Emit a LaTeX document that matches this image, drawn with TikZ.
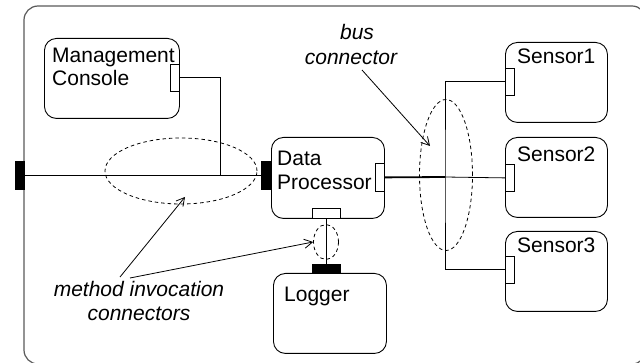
\documentclass[tikz,border=0pt]{standalone}
\usepackage{fontspec}
\setmainfont{Liberation Sans}
\usetikzlibrary{arrows.meta,shapes.geometric}
\begin{document}
\begin{tikzpicture}[x=1pt,y=-1pt,
  comp/.style={draw, rounded corners=12pt, line width=0.9pt, anchor=north west, inner sep=0pt},
  port/.style={draw, fill=white, line width=0.8pt, anchor=north west, inner sep=0pt},
  bport/.style={draw, fill=black, line width=0.8pt, anchor=north west, inner sep=0pt},
  lbl/.style={anchor=base west, inner sep=0pt, font=\fontsize{21}{23}\selectfont},
  note/.style={anchor=base, inner sep=0pt, font=\fontsize{21}{23}\selectfont\itshape},
  wire/.style={line width=0.8pt},
  ell/.style={draw, dashed, ellipse, inner sep=0pt, line width=0.8pt, dash pattern=on 3.5pt off 3pt},
  pointer/.style={line width=0.8pt, -{Straight Barb[length=8pt,width=9pt]}}
]
\useasboundingbox (0,0) rectangle (640,363);
% frame
\draw[line width=1.2pt, draw=black!65, rounded corners=14pt] (24,6) rectangle (646,364);
\node[bport, minimum width=9pt, minimum height=28pt] (lp) at (15,161) {};

% Management Console
\node[comp, minimum width=135pt, minimum height=80pt] (mc) at (44,38) {};
\node[port, minimum width=9pt, minimum height=27pt] (mcp) at (170,64) {};
\node[lbl] (mct1) at (52,63) {Management};
\node[lbl] (mct2) at (52,86) {Console};

% Data Processor
\node[comp, minimum width=113pt, minimum height=81pt] (dp) at (271,137) {};
\node[bport, minimum width=10pt, minimum height=28pt] (dpl) at (261,161) {};
\node[port, minimum width=9pt, minimum height=28pt] (dpr) at (375,163) {};
\node[port, minimum width=28pt, minimum height=10pt] (dpb) at (312,208) {};
\node[lbl] (dpt1) at (277,166) {Data};
\node[lbl] (dpt2) at (277,190) {Processor};

% Logger
\node[comp, minimum width=113pt, minimum height=80pt] (lg) at (273,273) {};
\node[bport, minimum width=28pt, minimum height=9pt] (lgp) at (312,264) {};
\node[lbl] (lgt) at (284,302) {Logger};

% Sensors
\node[comp, minimum width=102pt, minimum height=80pt] (s1) at (505,42) {};
\node[port, minimum width=9pt, minimum height=27pt] (s1p) at (505,68) {};
\node[lbl] (s1t) at (517,64) {Sensor1};
\node[comp, minimum width=102pt, minimum height=80pt] (s2) at (505,137) {};
\node[port, minimum width=9pt, minimum height=27pt] (s2p) at (505,164) {};
\node[lbl] (s2t) at (517,162) {Sensor2};
\node[comp, minimum width=102pt, minimum height=80pt] (s3) at (505,231) {};
\node[port, minimum width=9pt, minimum height=27pt] (s3p) at (505,256) {};
\node[lbl] (s3t) at (517,253) {Sensor3};

% method invocation connectors
\coordinate (j1) at (220,175);
\draw[wire] (lp.east) -- (dpl.west);
\draw[wire] (mcp.east) -| (j1);
\draw[wire] (dpb.south) -- (lgp.north);

% bus connector
\coordinate (bj) at (445,177);
\draw[line width=1.8pt] (dpr.east) -- (bj);
\draw[wire] (bj) -- (s2p.west);
\draw[wire] (s1p.west) -| (bj) |- (s3p.west);

% ellipses
\node[ell, minimum width=152pt, minimum height=66pt] (e1) at (181,171) {};
\node[ell, minimum width=25pt, minimum height=35pt] (e2) at (326,242) {};
\node[ell, minimum width=53pt, minimum height=151pt] (e3) at (446,175) {};

% notes
\node[note] (bn1) at (357,40) {bus};
\node[note] (bn2) at (351,65) {connector};
\node[note] (mn1) at (139,297) {method invocation};
\node[note] (mn2) at (139,320) {connectors};

\coordinate (b0) at (362,70);
\coordinate (b1) at (430,146);
\draw[pointer] (b0) -- (b1);
\coordinate (m0) at (120,277);
\coordinate (m1) at (130,278);
\coordinate (m1t) at (185,197);
\draw[pointer] (m0) -- (m1t);
\draw[pointer] (m1) -- (e2.west);
\end{tikzpicture}
\end{document}
